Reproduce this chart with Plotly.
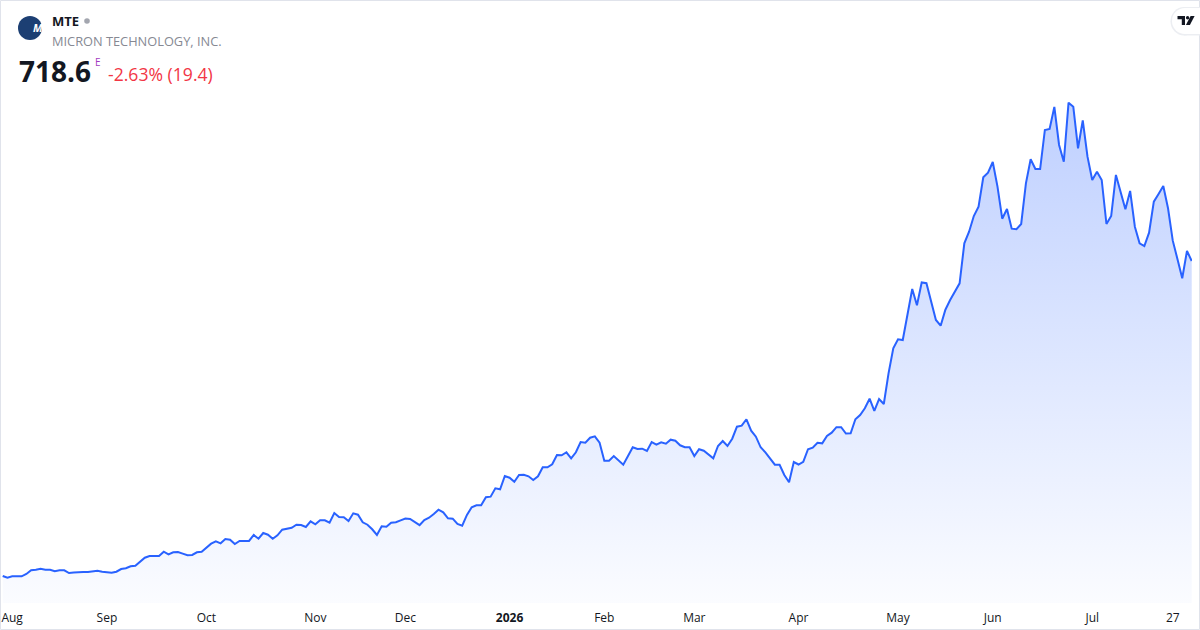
import pandas as pd
import plotly.graph_objects as go

# daily closes, one list per month (Jul 31 2025 .. Jul 31 2026)
jul_2025 = [110.6]
aug_2025 = [107.3, 110.0, 110.0, 110.0, 114.5, 121.6, 122.8, 124.7, 122.8, 122.8, 119.7,
            121.6, 121.6, 116.4, 117.4, 118.3, 118.3, 118.3, 119.7, 120.9, 118.9]
sep_2025 = [117.8, 117.0, 118.9, 124.1, 125.5, 129.3, 130.5, 138.6, 145.9, 149.2, 149.2,
            149.2, 157.5, 152.5, 156.4, 156.9, 153.7, 150.6, 151.2, 156.4, 157.5]
oct_2025 = [165.2, 173.0, 177.6, 173.7, 182.0, 180.7, 172.4, 178.2, 178.2, 178.2, 189.8, 182.6,
            193.6, 190.3, 182.6, 189.2, 200.0, 201.3, 203.8, 209.6, 209.1, 205.2, 216.2]
nov_2025 = [210.4, 218.1, 218.1, 213.5, 232.2, 224.5, 223.9, 216.8, 231.6, 228.9, 214.3, 209.6,
            200.8, 189.8, 206.7, 205.6, 213.5, 214.3, 218.1]
dec_2025 = [221.6, 220.6, 214.8, 208.7, 218.7, 223.0, 230.3, 238.6, 233.6, 222.0, 221.2, 211.0,
            207.7, 228.4, 243.2, 247.1, 247.1, 262.5, 263.7, 279.9, 278.0, 303.6]
jan_2026 = [300.3, 292.6, 305.5, 306.1, 303.0, 295.9, 303.0, 320.4, 320.4, 326.2, 344.2, 343.6,
            349.4, 337.8, 349.4, 369.2, 367.9, 377.5, 380.2, 367.9]
feb_2026 = [333.2, 333.2, 342.2, 334.5, 325.4, 342.2, 359.0, 355.7, 356.3, 351.9, 369.2, 364.0,
            368.7, 366.0, 373.7, 371.8, 362.9, 359.2, 359.2]
mar_2026 = [342.2, 355.2, 352.5, 344.2, 337.8, 361.5, 371.2, 361.5, 375.6, 398.8, 400.7, 413.1,
            391.1, 379.5, 359.0, 349.4, 336.4, 325.4, 325.4, 305.5, 291.5, 330.6]
apr_2026 = [325.8, 331.0, 355.3, 358.2, 367.9, 366.7, 380.8, 387.2, 397.8, 397.8, 385.6, 386.2,
            413.1, 421.4, 434.3, 452.8, 429.1, 452.2, 442.6, 501.8, 550.1]
may_2026 = [567.5, 566.1, 614.4, 664.5, 633.1, 677.1, 675.7, 640.0, 604.7, 593.7, 624.6, 643.3,
            659.3, 675.5, 752.7, 775.1, 805.4, 823.4, 880.1, 889.0]
jun_2026 = [909.6, 862.0, 800.2, 818.9, 780.9, 779.8, 790.0, 868.5, 914.9, 896.1, 896.1, 971.4,
            973.3, 1015.8, 942.5, 910.2, 1024.1, 1016.4, 936.1, 990.1, 919.9]
jul_2026 = [874.9, 890.9, 874.9, 790.0, 805.4, 884.6, 849.2, 818.4, 853.7, 784.8, 752.7, 747.5,
            773.2, 833.0, 847.9, 863.3, 820.3, 757.8, 721.9, 685.2, 738.0, 718.6]

holidays = ["2025-09-01", "2025-11-27", "2025-12-25", "2026-01-01", "2026-01-19",
            "2026-02-16", "2026-04-03", "2026-05-25", "2026-06-19", "2026-07-03"]

month_labels = ["Aug", "Sep", "Oct", "Nov", "Dec", "<b>2026</b>",
                "Feb", "Mar", "Apr", "May", "Jun", "Jul"]
day_label_date = "2026-07-27"
day_label = "27"

ticker = "MTE"
company = "MICRON TECHNOLOGY, INC."
last_price = 718.6
change = -19.4
change_pct = -2.63

closes = (jul_2025 + aug_2025 + sep_2025 + oct_2025 + nov_2025 + dec_2025 + jan_2026
          + feb_2026 + mar_2026 + apr_2026 + may_2026 + jun_2026 + jul_2026)
dates = pd.bdate_range("2025-07-31", "2026-07-31", freq="C", holidays=holidays)
n = len(closes)
assert len(dates) == n

# ticks sit on the first session of each month
s = pd.Series(range(n), index=dates)
first_idx = s.groupby([dates.year, dates.month]).first().tolist()[1:]
tickvals = first_idx + [int(s[day_label_date])]
ticktext = month_labels + [day_label]
# first label would hang off the left edge, nudge it in like TradingView does
ticktext[0] = "\u00a0" * 3 + ticktext[0]

W, H = 1200, 630
L, R, T, B = 0, 8, 60, 27
PW, PH = W - L - R, H - T - B


def px(x):
    return (x - L) / PW


def py(y):
    return (H - B - y) / PH


def path(points):
    return "M " + " L ".join(f"{px(a):.5f},{py(b):.5f}" for a, b in points) + " Z"


def box(x0, y0, x1, y1, color, kind="rect"):
    return dict(type=kind, xref="paper", yref="paper", x0=px(x0), x1=px(x1), y0=py(y1), y1=py(y0),
                fillcolor=color, line=dict(width=0))


fig = go.Figure()

fig.add_trace(go.Scatter(
    x=list(range(n)), y=closes,
    mode="lines",
    line=dict(color="#2962FF", width=2),
    fill="tozeroy",
    fillgradient=dict(
        type="vertical",
        colorscale=[[0, "rgba(41,98,255,0.02)"], [1, "rgba(41,98,255,0.30)"]],
        start=58.5, stop=max(closes),
    ),
    customdata=[d.strftime("%b %d, %Y") for d in dates],
    hovertemplate="%{customdata}<br>%{y:.1f}<extra></extra>",
))

shapes = [
    # card border
    dict(type="rect", xref="paper", yref="paper", x0=px(0.5), x1=px(1199.5), y0=py(629.5), y1=py(0.5),
         line=dict(color="#e0e3eb", width=1), fillcolor="rgba(0,0,0,0)", layer="above"),
    # logo + status dot
    box(18, 16, 42, 40, "#1c3f73", "circle"),
    box(84.2, 18.2, 89.8, 23.8, "#a3a6af", "circle"),
    # TradingView badge (pill with soft shadow)
    box(1170.5, 7, 1197.5, 35.5, "#eceef2", "circle"),
    box(1184, 7, 1215, 35.5, "#eceef2"),
    box(1172, 8, 1198, 34, "white", "circle"),
    box(1185, 8, 1215, 34, "white"),
    dict(type="path", xref="paper", yref="paper", fillcolor="#131722", line=dict(width=0),
         path=path([(1177.5, 16), (1185, 16), (1185, 25), (1181.8, 25), (1181.8, 19.3), (1177.5, 19.3)])),
    box(1185.9, 16, 1189.3, 19.4, "#131722", "circle"),
    dict(type="path", xref="paper", yref="paper", fillcolor="#131722", line=dict(width=0),
         path=path([(1190.6, 16), (1194.6, 16), (1189.9, 25), (1185.9, 25)])),
]

annotations = [
    dict(x=px(31), y=py(28), text="<b><i>M</i></b>", font=dict(size=11, color="white")),
    dict(x=px(50), y=py(21), text=f"<b>{ticker}</b>", xanchor="left",
         font=dict(size=13, color="#131722")),
    dict(x=px(50), y=py(41), text=company, xanchor="left",
         font=dict(size=12.8, color="#868993")),
    dict(x=px(16.5), y=py(71), text=f"<b>{last_price}</b>", xanchor="left",
         font=dict(size=28, color="#131722")),
    dict(x=px(92.5), y=py(62), text="E", xanchor="left",
         font=dict(size=10, color="#a23bbf")),
    dict(x=px(105.5), y=py(74), text=f"{change_pct:.2f}% ({abs(change)})", xanchor="left",
         font=dict(size=17.6, color="#F23645")),
]
for a in annotations:
    a.update(xref="paper", yref="paper", showarrow=False, yanchor="middle")

fig.update_layout(
    width=W, height=H,
    margin=dict(l=L, r=R, t=T, b=B, autoexpand=False),
    paper_bgcolor="white",
    plot_bgcolor="white",
    font=dict(family="Open Sans", color="#131722"),
    showlegend=False,
    xaxis=dict(
        range=[-0.57, n - 0.94],
        tickvals=tickvals, ticktext=ticktext,
        showgrid=False, zeroline=False, showline=False, ticks="",
        tickfont=dict(size=12, color="#131722"),
        ticklabeloverflow="allow",
        ticklabelstandoff=6,
        automargin=False,
    ),
    yaxis=dict(
        range=[58.5, 1106.5],
        visible=False,
    ),
    shapes=shapes,
    annotations=annotations,
)

fig.write_html("out.html", config={"displayModeBar": False},
               post_script="document.body.style.margin='0';")
